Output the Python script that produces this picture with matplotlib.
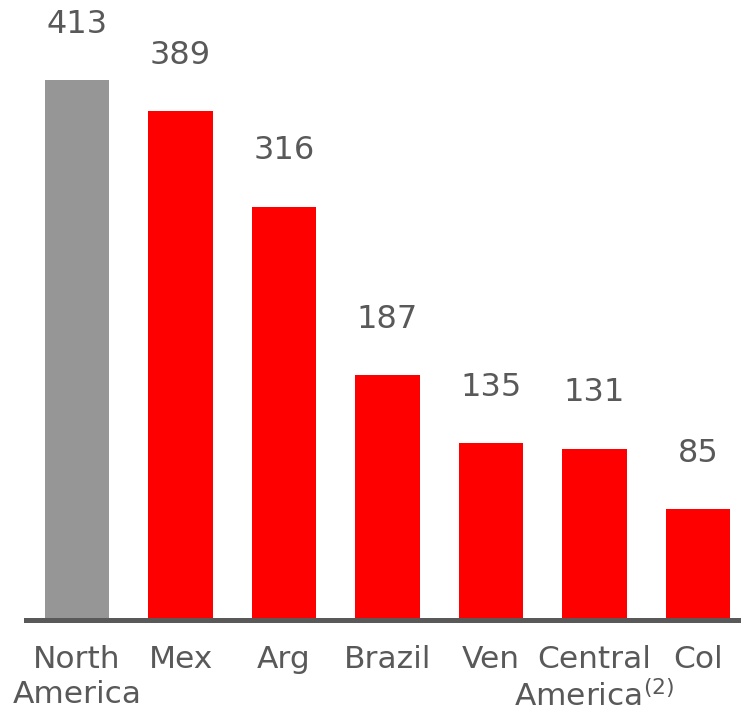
import matplotlib
matplotlib.use("Agg")
import matplotlib.pyplot as plt

plt.rcParams['font.family'] = ['DejaVu Sans']
plt.rcParams['mathtext.default'] = 'regular'

categories = ["North\nAmerica", "Mex", "Arg", "Brazil", "Ven", "Central\nAmerica$^{(2)}$", "Col"]
values = [413, 389, 316, 187, 135, 131, 85]
colors = ["#969696", "#ff0000", "#ff0000", "#ff0000", "#ff0000", "#ff0000", "#ff0000"]
text_color = "#595959"

fig = plt.figure(figsize=(7.41, 7.12), dpi=100)
ax = fig.add_axes([26/741, 92/712, 715/741, 620/712])

x = list(range(len(values)))
ax.bar(x, values, width=0.62, color=colors, zorder=2)
ax.set_xlim(-0.493, 6.415)
ax.set_ylim(0, 474)

for xi, v in zip(x, values):
    ax.annotate(str(v), (xi, v), xytext=(0, 29), textcoords="offset points",
                ha="center", va="bottom", fontsize=23, color=text_color)

for s in ["top", "right", "left"]:
    ax.spines[s].set_visible(False)
ax.spines["bottom"].set_color(text_color)
ax.spines["bottom"].set_linewidth(3.6)
ax.set_yticks([])
ax.set_xticks(x)
ax.set_xticklabels(categories, fontsize=22.5, color=text_color, linespacing=1.25)
ax.tick_params(axis="x", length=0, pad=18)

fig.savefig("out.png", dpi=100)
